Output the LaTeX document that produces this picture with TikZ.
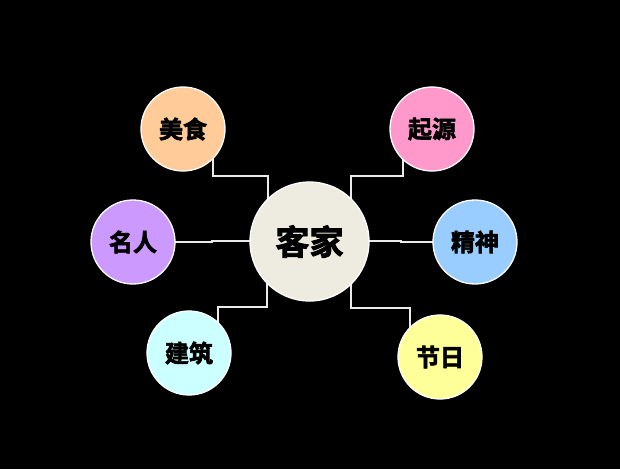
\documentclass[tikz,border=0pt]{standalone}
\usepackage{fontspec}
\newfontfamily\cjk{Noto Sans CJK SC Bold}[FakeBold=2.5]
\definecolor{cMS}{HTML}{FFCC99}
\definecolor{cQY}{HTML}{FF99CC}
\definecolor{cMR}{HTML}{CC99FF}
\definecolor{cJS}{HTML}{99CCFF}
\definecolor{cJZ}{HTML}{CCFFFF}
\definecolor{cJR}{HTML}{FFFF99}
\definecolor{cHub}{HTML}{EEECE1}
\pgfdeclarelayer{back}
\pgfdeclarelayer{lines}
\pgfsetlayers{back,lines,main}
\begin{document}
\begin{tikzpicture}[x=1pt,y=-1pt,
  leaf/.style={circle,draw=white,line width=1.3pt,minimum size=84pt,inner sep=0pt,font=\cjk\fontsize{24}{26}\selectfont,text=black},
  hub/.style={circle,draw=white,line width=1.3pt,minimum size=119pt,inner sep=0pt,fill=cHub,font=\cjk\fontsize{34}{36}\selectfont,text=black},
  link/.style={draw=white!92!black,line width=1.3pt}]
\begin{pgfonlayer}{back}
\fill[black] (0,0) rectangle (620,469);
\end{pgfonlayer}
\useasboundingbox (0,0) rectangle (620,469);
\node[hub] (hub) at (309.5,241.5) {客家};
\node[leaf,fill=cMS] (ms) at (183,129) {美食};
\node[leaf,fill=cQY] (qy) at (432,129) {起源};
\node[leaf,fill=cMR] (mr) at (133,242) {名人};
\node[leaf,fill=cJS] (js) at (475,242) {精神};
\node[leaf,fill=cJZ] (jz) at (189,353) {建筑};
\node[leaf,fill=cJR] (jr) at (440,357) {节日};
\coordinate (a1) at (213,176);
\coordinate (a2) at (268,176);
\coordinate (b1) at (351,176);
\coordinate (b2) at (403,176);
\coordinate (e1) at (212,242);
\coordinate (e2) at (212,241);
\coordinate (f1) at (401,241);
\coordinate (f2) at (401,242);
\coordinate (c1) at (267,307);
\coordinate (c2) at (218,307);
\coordinate (d1) at (351,308);
\coordinate (d2) at (410,308);
\begin{pgfonlayer}{lines}
\draw[link] (ms.center -| a1) -- (a1) -- (a2) -- (hub.center -| a2);
\draw[link] (hub.center -| b1) -- (b1) -- (b2) -- (qy.center -| b2);
\draw[link] (mr.center) -- (e1) -- (e2) -- (hub.center |- e2);
\draw[link] (hub.center |- f1) -- (f1) -- (f2) -- (js.center);
\draw[link] (hub.center -| c1) -- (c1) -- (c2) -- (jz.center -| c2);
\draw[link] (hub.center -| d1) -- (d1) -- (d2) -- (jr.center -| d2);
\end{pgfonlayer}
\end{tikzpicture}
\end{document}
